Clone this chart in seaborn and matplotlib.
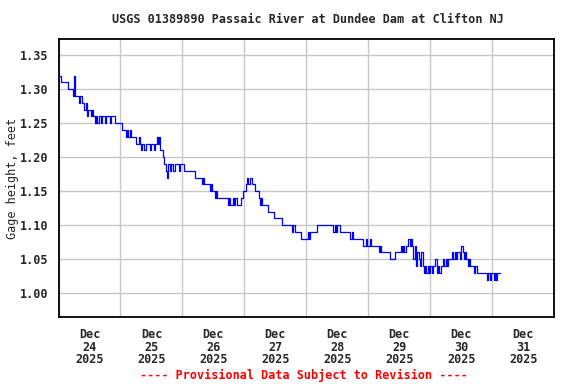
import pandas as pd
import numpy as np
import matplotlib
matplotlib.use('Agg')
import matplotlib.pyplot as plt
import matplotlib.dates as mdates
import seaborn as sns

# gage height, feet, every 30 minutes from Dec 24 00:00
day24 = [1.32, 1.32, 1.31, 1.31, 1.31, 1.31, 1.31, 1.30, 1.30, 1.30, 1.30, 1.29,
         1.32, 1.29, 1.29, 1.29, 1.28, 1.29, 1.28, 1.28, 1.27, 1.28, 1.26, 1.27,
         1.27, 1.26, 1.27, 1.26, 1.25, 1.26, 1.25, 1.26, 1.26, 1.25, 1.26, 1.26,
         1.25, 1.26, 1.26, 1.26, 1.25, 1.26, 1.26, 1.26, 1.25, 1.25, 1.25, 1.25]
day25 = [1.25, 1.24, 1.24, 1.24, 1.23, 1.24, 1.23, 1.24, 1.23, 1.23, 1.23, 1.23,
         1.22, 1.22, 1.23, 1.22, 1.21, 1.22, 1.21, 1.21, 1.22, 1.22, 1.22, 1.21,
         1.22, 1.22, 1.21, 1.22, 1.23, 1.22, 1.23, 1.21, 1.21, 1.20, 1.19, 1.18,
         1.17, 1.19, 1.18, 1.19, 1.19, 1.18, 1.19, 1.19, 1.19, 1.18, 1.19, 1.19]
day26 = [1.19, 1.18, 1.18, 1.18, 1.18, 1.18, 1.18, 1.18, 1.18, 1.18, 1.17, 1.17,
         1.17, 1.17, 1.17, 1.16, 1.17, 1.16, 1.16, 1.16, 1.16, 1.15, 1.16, 1.15,
         1.15, 1.14, 1.15, 1.14, 1.14, 1.14, 1.14, 1.14, 1.14, 1.14, 1.14, 1.13,
         1.14, 1.13, 1.13, 1.14, 1.13, 1.14, 1.13, 1.13, 1.13, 1.14, 1.14, 1.15]
day27 = [1.15, 1.16, 1.17, 1.16, 1.17, 1.17, 1.16, 1.16, 1.15, 1.15, 1.15, 1.14,
         1.13, 1.14, 1.13, 1.13, 1.13, 1.13, 1.12, 1.12, 1.12, 1.12, 1.12, 1.11,
         1.11, 1.11, 1.11, 1.11, 1.11, 1.10, 1.10, 1.10, 1.10, 1.10, 1.10, 1.10,
         1.10, 1.09, 1.10, 1.09, 1.09, 1.09, 1.09, 1.09, 1.08, 1.08, 1.08, 1.08]
day28 = [1.08, 1.09, 1.08, 1.09, 1.09, 1.09, 1.09, 1.09, 1.10, 1.10, 1.10, 1.10,
         1.10, 1.10, 1.10, 1.10, 1.10, 1.10, 1.10, 1.10, 1.10, 1.09, 1.10, 1.09,
         1.10, 1.10, 1.09, 1.09, 1.09, 1.09, 1.09, 1.09, 1.09, 1.09, 1.08, 1.09,
         1.08, 1.08, 1.08, 1.08, 1.08, 1.08, 1.08, 1.08, 1.07, 1.07, 1.08, 1.07]
day29 = [1.07, 1.08, 1.07, 1.07, 1.07, 1.07, 1.07, 1.07, 1.06, 1.07, 1.06, 1.06,
         1.06, 1.06, 1.06, 1.06, 1.06, 1.05, 1.05, 1.05, 1.05, 1.06, 1.06, 1.06,
         1.06, 1.07, 1.06, 1.07, 1.06, 1.07, 1.07, 1.08, 1.07, 1.08, 1.07, 1.05,
         1.07, 1.04, 1.06, 1.05, 1.04, 1.06, 1.04, 1.03, 1.04, 1.03, 1.04, 1.03]
day30 = [1.04, 1.03, 1.04, 1.04, 1.05, 1.03, 1.04, 1.03, 1.04, 1.04, 1.05, 1.04,
         1.05, 1.04, 1.05, 1.05, 1.05, 1.06, 1.05, 1.06, 1.05, 1.06, 1.06, 1.05,
         1.07, 1.06, 1.05, 1.06, 1.05, 1.04, 1.05, 1.04, 1.04, 1.04, 1.03, 1.04,
         1.03, 1.03, 1.03, 1.03, 1.03, 1.03, 1.03, 1.03, 1.02, 1.03, 1.02, 1.03]
day31 = [1.03, 1.02, 1.03, 1.02, 1.03, 1.03, 1.03]

yticks = [1.00, 1.05, 1.10, 1.15, 1.20, 1.25, 1.30, 1.35]
title = 'USGS 01389890 Passaic River at Dundee Dam at Clifton NJ'

values = day24 + day25 + day26 + day27 + day28 + day29 + day30 + day31
df = pd.DataFrame({
    'time': pd.date_range('2025-12-24 00:00', periods=len(values), freq='30min'),
    'gage': values,
})

sns.set_style('white')
plt.rcParams['font.family'] = ['DejaVu Sans Mono']
plt.rcParams['font.weight'] = 'bold'
plt.rcParams['font.size'] = 8.5

fig = plt.figure(figsize=(5.76, 3.84), dpi=100)
ax = fig.add_axes([0.1016, 0.1745, 0.8605, 0.7232])

sns.lineplot(ax=ax, x='time', y='gage', data=df, estimator=None,
             color='#0000ff', linewidth=0.9, drawstyle='steps-post')

ax.set_xlim(pd.Timestamp('2025-12-24'), pd.Timestamp('2026-01-01'))
ax.set_ylim(0.965, 1.3735)

# gridlines at midnight, labels at noon
ax.xaxis.set_major_locator(mdates.DayLocator())
ax.xaxis.set_major_formatter(plt.NullFormatter())
ax.xaxis.set_minor_locator(mdates.HourLocator(byhour=[12]))
ax.xaxis.set_minor_formatter(mdates.DateFormatter('%b\n%d\n%Y'))
ax.set_yticks(yticks)
ax.set_yticklabels(['%.2f' % v for v in yticks])
ax.tick_params(axis='both', which='both', length=0)
ax.tick_params(axis='x', which='minor', pad=8)
ax.tick_params(axis='y', pad=7)
for lab in ax.xaxis.get_minorticklabels():
    lab.set_linespacing(0.95)

ax.grid(True, which='major', color='#c8c8c8', linewidth=1)
for s in ax.spines.values():
    s.set_color('black')
    s.set_linewidth(1.3)

ax.set_xlabel('')
ax.set_ylabel('Gage height, feet', labelpad=1)
fig.text(0.535, 0.948, title, ha='center', va='center')
fig.text(0.528, 0.022, '---- Provisional Data Subject to Revision ----',
         ha='center', va='center', color='red')

plt.savefig('out.png', dpi=100)
